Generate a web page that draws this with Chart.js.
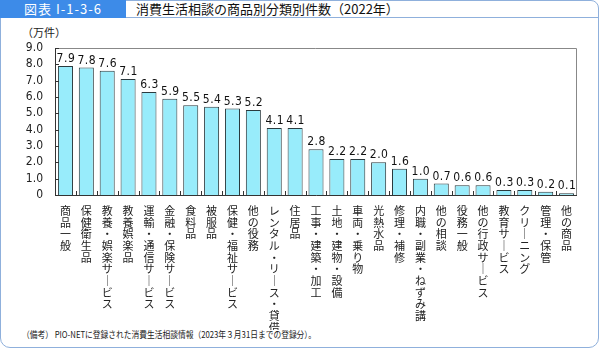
<!DOCTYPE html>
<html lang="ja">
<head>
<meta charset="utf-8">
<script src="https://cdn.jsdelivr.net/npm/chart.js@4"></script>
<style>
  html, body { margin: 0; padding: 0; background: #fff; }
  body { width: 600px; height: 350px; position: relative; overflow: hidden;
         font-family: "Noto Sans CJK JP", sans-serif; }
  .panel { position: absolute; left: 0; top: 0; width: 597px; height: 346px;
           border: 1.5px solid #8fb0dc; border-radius: 0 8px 10px 10px; }
  .head { position: absolute; left: 0; top: 0; width: 598px; height: 17px;
          border-bottom: 1.5px solid #8fb0dc; }
  .tab { position: absolute; left: 0; top: 0; width: 126px; height: 18px;
         background: #3d8be8; color: #fff; font-size: 13px; line-height: 18px; }
  .tab span { position: absolute; left: 24px; letter-spacing: 1px; }
  .title { position: absolute; left: 136px; top: 0; font-size: 13px; line-height: 18px; color: #111; }
  .unit { position: absolute; left: 22px; top: 24px; font-size: 11px; color: #222; }
  .note { position: absolute; left: 22px; top: 328px; font-size: 9px; color: #222; white-space: nowrap;
          transform: scaleX(0.86); transform-origin: left center; }
  canvas { position: absolute; left: 0; top: 0; }
</style>
</head>
<body>
<div class="panel"></div>
<div class="head"></div>
<div class="tab"><span>図表 I-1-3-6</span></div>
<div class="title">消費生活相談の商品別分類別件数（2022年）</div>
<div class="unit">（万件）</div>
<div class="note">（備考） PIO-NETに登録された消費生活相談情報（2023年３月31日までの登録分）。</div>
<canvas id="myChart" width="600" height="350"></canvas>
<script>
// 分類名と件数（万件）
const categories = [
  '商品一般', '保健衛生品', '教養・娯楽サービス', '教養娯楽品', '運輸・通信サービス',
  '金融・保険サービス', '食料品', '被服品', '保健・福祉サービス', '他の役務',
  'レンタル・リース・貸借', '住居品', '工事・建築・加工', '土地・建物・設備', '車両・乗り物',
  '光熱水品', '修理・補修', '内職・副業・ねずみ講', '他の相談', '役務一般',
  '他の行政サービス', '教育サービス', 'クリーニング', '管理・保管', '他の商品'
];
const counts = [
  7.9, 7.8, 7.6, 7.1, 6.3,
  5.9, 5.5, 5.4, 5.3, 5.2,
  4.1, 4.1, 2.8, 2.2, 2.2,
  2.0, 1.6, 1.0, 0.7, 0.6,
  0.6, 0.3, 0.3, 0.2, 0.1
];
const yTicks = [0, 1, 2, 3, 4, 5, 6, 7, 8, 9];

// 縦書き用に1文字ずつ分ける（長音は縦棒にする）
const verticalLabels = categories.map(s => Array.from(s).map(c => c === 'ー' ? '｜' : c));

const framePlugin = {
  id: 'frame',
  afterDatasetsDraw(chart) {
    const { ctx, chartArea: a, scales } = chart;
    ctx.save();
    // 外枠
    ctx.strokeStyle = '#888';
    ctx.lineWidth = 1;
    ctx.beginPath();
    ctx.moveTo(a.left, a.top + 0.5);
    ctx.lineTo(a.right - 0.5, a.top + 0.5);
    ctx.lineTo(a.right - 0.5, a.bottom);
    ctx.stroke();
    ctx.strokeStyle = '#333';
    ctx.beginPath();
    ctx.moveTo(a.left + 0.5, a.top);
    ctx.lineTo(a.left + 0.5, a.bottom + 0.5);
    ctx.lineTo(a.right, a.bottom + 0.5);
    ctx.stroke();
    // 目盛り（内向き）
    ctx.beginPath();
    yTicks.forEach(v => {
      const y = Math.round(scales.y.getPixelForValue(v)) + 0.5;
      ctx.moveTo(a.left, y);
      ctx.lineTo(a.left + 4, y);
    });
    for (let i = 1; i < categories.length; i++) {
      const x = Math.round(scales.x.getPixelForValue(i - 0.5)) + 0.5;
      ctx.moveTo(x, a.bottom);
      ctx.lineTo(x, a.bottom - 4);
    }
    ctx.stroke();
    // 値ラベル
    ctx.fillStyle = '#111';
    ctx.font = '12px "DejaVu Sans Condensed"';
    ctx.textAlign = 'center';
    ctx.textBaseline = 'bottom';
    ctx.letterSpacing = '0.5px';
    chart.getDatasetMeta(0).data.forEach((bar, i) => {
      ctx.fillText(counts[i].toFixed(1), bar.x + 0.5, bar.y - 1);
    });
    ctx.restore();
  }
};

const ctx = document.getElementById('myChart').getContext('2d');
new Chart(ctx, {
  type: 'bar',
  data: {
    labels: verticalLabels,
    datasets: [{
      data: counts,
      backgroundColor: '#98ecfb',
      borderColor: '#2a3a3e',
      borderWidth: 1,
      barPercentage: 0.72,
      categoryPercentage: 1.0
    }]
  },
  options: {
    responsive: false,
    animation: false,
    layout: { padding: { top: 48, right: 23, left: 0, bottom: 20 } },
    plugins: { legend: { display: false }, tooltip: { enabled: false } },
    scales: {
      x: {
        grid: { display: false },
        border: { display: false },
        ticks: {
          autoSkip: false, maxRotation: 0, minRotation: 0, padding: 2,
          color: '#222',
          font: { family: '"Noto Sans CJK JP"', size: 11, lineHeight: 1.06 }
        },
        afterFit(scale) { scale.height = 135; }
      },
      y: {
        min: 0, max: 9,
        grid: { display: false },
        border: { display: false },
        afterBuildTicks(scale) { scale.ticks = yTicks.map(v => ({ value: v })); },
        ticks: {
          autoSkip: false, padding: 4, color: '#222',
          font: { family: '"DejaVu Sans Condensed"', size: 12 },
          callback: v => v === 0 ? '0' : v.toFixed(1)
        },
        afterFit(scale) { scale.width = 55; }
      }
    }
  },
  plugins: [framePlugin]
});
</script>
</body>
</html>
